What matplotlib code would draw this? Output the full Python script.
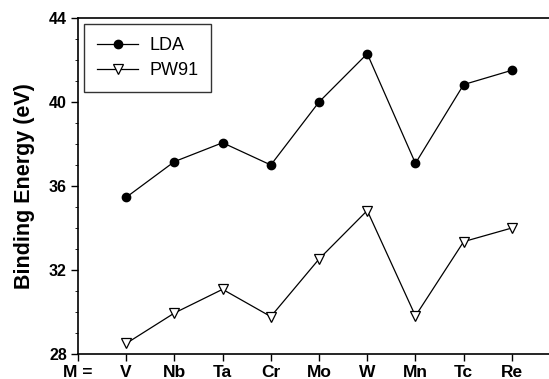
import matplotlib
matplotlib.use("Agg")
import matplotlib.pyplot as plt
from matplotlib.ticker import MultipleLocator

plt.rcParams['font.family'] = ['Liberation Sans', 'DejaVu Sans']

categories = ["M =", "V", "Nb", "Ta", "Cr", "Mo", "W", "Mn", "Tc", "Re"]
metals = ["V", "Nb", "Ta", "Cr", "Mo", "W", "Mn", "Tc", "Re"]
lda = [35.46, 37.16, 38.06, 37.0, 40.0, 42.3, 37.08, 40.83, 41.51]
pw91 = [28.5, 29.95, 31.08, 29.78, 32.52, 34.83, 29.81, 33.35, 34.0]
yticks = [28, 32, 36, 40, 44]

fig = plt.figure(figsize=(5.49, 3.79), dpi=100)
ax = fig.add_axes([0.142, 0.066, 0.858, 0.8865])

x = list(range(1, len(metals) + 1))
ax.plot(x, lda, color='black', lw=0.9, marker='o', ms=6, mfc='black', mec='black', label='LDA')
ax.plot(x, pw91, color='black', lw=0.9, marker='v', ms=6.5, mfc='white', mec='black', mew=0.9, label='PW91')

ax.set_xlim(0, 9.77)
ax.set_ylim(28, 44)
ax.set_xticks(range(len(categories)))
ax.set_xticklabels(categories, fontweight='bold', fontsize=12.5)
ax.set_yticks(yticks)
ax.set_yticklabels([str(v) for v in yticks], fontweight='bold', fontsize=11.5)
ax.yaxis.set_minor_locator(MultipleLocator(1))
ax.tick_params(axis='both', direction='out', length=5, width=1, pad=3)
ax.tick_params(axis='y', which='minor', length=2, width=0.6)
ax.spines['right'].set_visible(False)
for s in ['left', 'top', 'bottom']:
    ax.spines[s].set_linewidth(1.2)
ax.set_ylabel('Binding Energy (eV)', fontweight='bold', fontsize=15.5, labelpad=10)

leg = ax.legend(loc='upper left', bbox_to_anchor=(0.0, 1.0), fontsize=13,
                frameon=True, fancybox=False, edgecolor='black',
                handlelength=2.3, handletextpad=0.6, borderpad=0.7, labelspacing=0.45,
                borderaxespad=0.35)
leg.get_frame().set_linewidth(1.0)

fig.savefig('out.png', dpi=100)
